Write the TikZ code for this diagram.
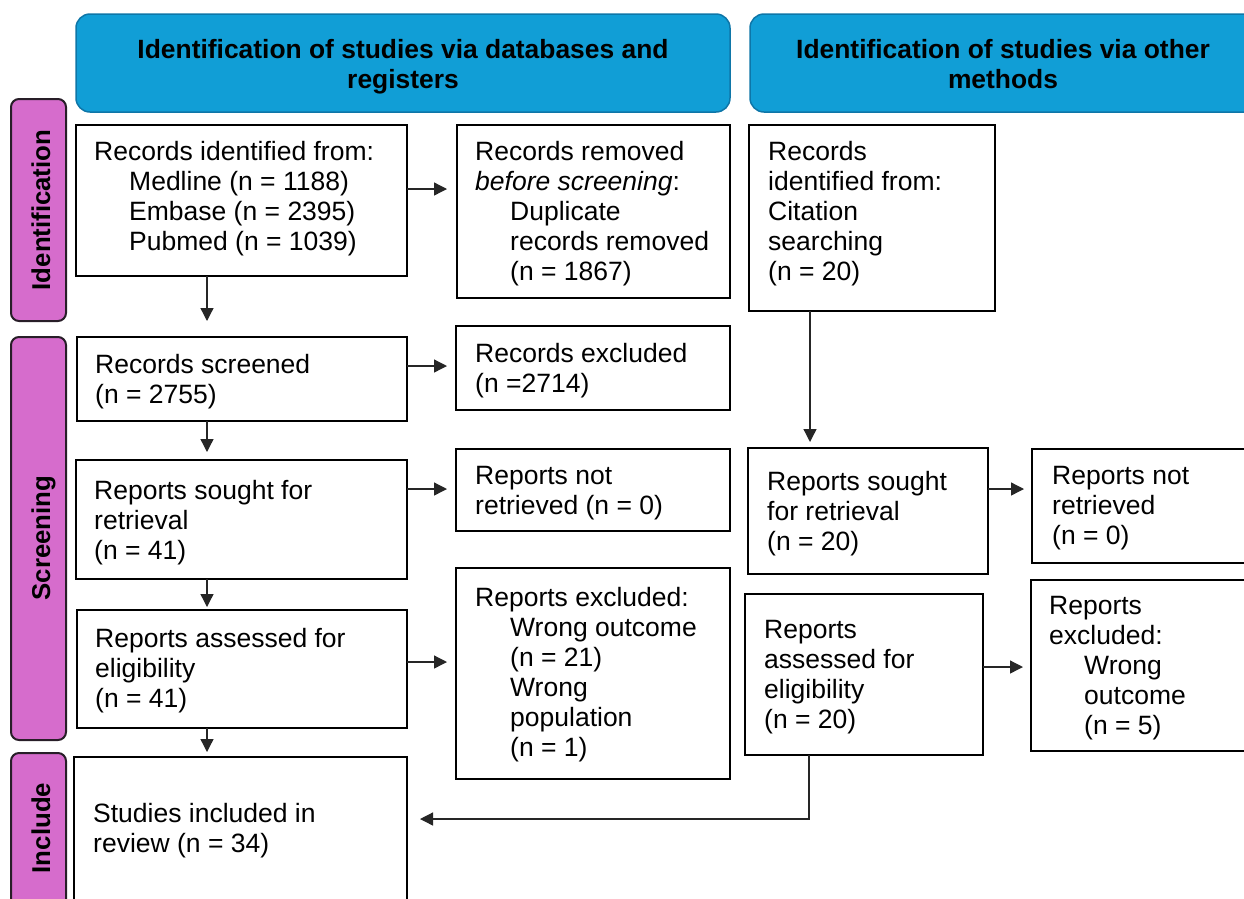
\documentclass[tikz,border=0pt]{standalone}
\usepackage{fontspec}
\setmainfont{Liberation Sans}
\usetikzlibrary{arrows.meta}
\definecolor{hdrfill}{RGB}{17,158,214}
\definecolor{hdrline}{RGB}{14,118,168}
\definecolor{sidefill}{RGB}{214,108,204}
\definecolor{sideline}{RGB}{40,30,40}
\newcommand\ind{\hspace*{35pt}}
\newcommand\fr{\rule{0pt}{22pt}}
\newcommand\bx[5]{\node[box, minimum width={(#4-#2)*1pt}, minimum height={(#5-#3)*1pt}] (#1) at (#2,#3) {};}
\newcommand\tx[3]{\node[txt] at (#1+1,#2-22) {\fr#3};}
\begin{document}
\begin{tikzpicture}[x=1pt,y=-1pt,
  box/.style={draw=black, line width=2.2pt, fill=white, anchor=north west, inner sep=0pt, outer sep=0pt},
  hdr/.style={draw=hdrline, line width=1.5pt, fill=hdrfill, rounded corners=14pt},
  side/.style={draw=sideline, line width=2pt, fill=sidefill, rounded corners=8pt},
  txt/.style={anchor=north west, inner sep=0pt, align=left, font=\fontsize{26.5}{30}\selectfont},
  htxt/.style={anchor=north, inner sep=0pt, align=center, font=\fontsize{26.4}{30}\selectfont\bfseries},
  stxt/.style={anchor=base, rotate=90, inner sep=0pt, font=\fontsize{25.8}{30}\selectfont\bfseries},
  arr/.style={draw=black!85, line width=1.3pt, -{Triangle[length=13pt,width=13pt]}}
]
\useasboundingbox (0,0) rectangle (1244,898);
\clip (0,0) rectangle (1244,898);

% headers
\draw[hdr] (76,14) rectangle (730,112);
\draw[hdr] (750,14) rectangle (1262,112);
\node[htxt] (h1) at (403,58-22) {\fr Identification of studies via databases and\\registers};
\node[htxt] (h2) at (1003,58-22) {\fr Identification of studies via other\\methods};

% side labels
\draw[side] (11,99) rectangle (66,321);
\draw[side] (11,337) rectangle (66,740);
\draw[side] (11,753) rectangle (66,920);
\node[stxt] (s1) at (50,210) {Identification};
\node[stxt] (s2) at (50,538) {Screening};
\node[stxt] (s3) at (50,828) {Include};

% boxes
\bx{b1}{76}{125}{407}{276}
\bx{b2}{457}{125}{730}{298}
\bx{b3}{749}{125}{995}{311}
\bx{b4}{77}{337}{407}{421}
\bx{b5}{456}{326}{730}{410}
\bx{b6}{76}{460}{407}{579}
\bx{b7}{456}{449}{730}{531}
\bx{b8}{748}{448}{988}{574}
\bx{b9}{1032}{449}{1262}{563}
\bx{b10}{77}{610}{407}{728}
\bx{b11}{456}{568}{730}{779}
\bx{b12}{745}{594}{983}{755}
\bx{b13}{1031}{580}{1262}{751}
\bx{b14}{74}{757}{407}{920}

% texts
\tx{93}{160}{Records identified from:\\\ind Medline (n = 1188)\\\ind Embase (n = 2395)\\\ind Pubmed (n = 1039)}
\tx{474}{160}{Records removed\\\textit{before screening}:\\\ind Duplicate\\\ind records removed\\\ind (n = 1867)}
\tx{767}{160}{Records\\identified from:\\Citation\\searching\\(n = 20)}
\tx{94}{373}{Records screened\\(n = 2755)}
\tx{474}{362}{Records excluded\\(n =2714)}
\tx{93}{499}{Reports sought for\\retrieval\\(n = 41)}
\tx{474}{484}{Reports not\\retrieved (n = 0)}
\tx{766}{490}{Reports sought\\for retrieval\\(n = 20)}
\tx{1051}{484}{Reports not\\retrieved\\(n = 0)}
\tx{94}{647}{Reports assessed for\\eligibility\\(n = 41)}
\tx{474}{606}{Reports excluded:\\\ind Wrong outcome\\\ind (n = 21)\\\ind Wrong\\\ind population\\\ind (n = 1)}
\tx{763}{638}{Reports\\assessed for\\eligibility\\(n = 20)}
\tx{1048}{614}{Reports\\excluded:\\\ind Wrong\\\ind outcome\\\ind (n = 5)}
\tx{92}{822}{Studies included in\\review (n = 34)}

% connectors
\draw[arr, shorten >=10pt] (b1.east |- 0,189) -- (b2.west |- 0,189);
\draw[arr, shorten >=16pt] (b1.south -| 207,0) -- (b4.north -| 207,0);
\draw[arr, shorten >=9pt] (b4.east |- 0,366) -- (b5.west |- 0,366);
\draw[arr, shorten >=8pt] (b4.south -| 207,0) -- (b6.north -| 207,0);
\draw[arr, shorten >=9pt] (b6.east |- 0,489) -- (b7.west |- 0,489);
\draw[arr, shorten >=3pt] (b6.south -| 207,0) -- (b10.north -| 207,0);
\draw[arr, shorten >=9pt] (b10.east |- 0,662) -- (b11.west |- 0,662);
\draw[arr, shorten >=5pt] (b10.south -| 207,0) -- (b14.north -| 207,0);
\draw[arr, shorten >=6pt] (b3.south -| 810,0) -- (b8.north -| 810,0);
\draw[arr, shorten >=8pt] (b8.east |- 0,489) -- (b9.west |- 0,489);
\draw[arr, shorten >=8pt] (b12.east |- 0,667) -- (b13.west |- 0,667);
\draw[arr, shorten >=13pt] (b12.south -| 809,0) |- (b14.east |- 0,819);
\end{tikzpicture}
\end{document}
